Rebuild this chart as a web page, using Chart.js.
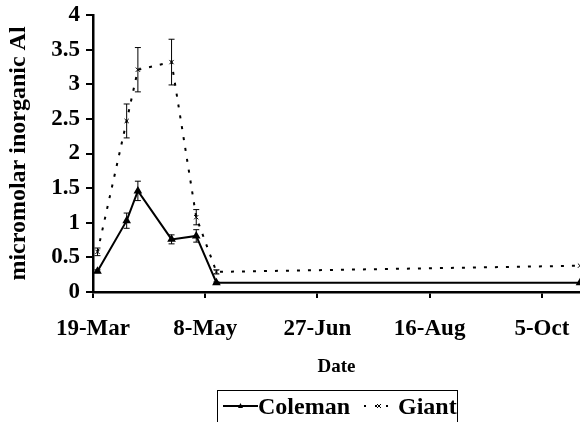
<!DOCTYPE html>
<html>
<head>
<meta charset="utf-8">
<script src="https://cdn.jsdelivr.net/npm/chart.js@4.4.0/dist/chart.umd.min.js"></script>
<style>
  html, body { margin: 0; padding: 0; background: #fff; }
  #wrap { position: relative; width: 580px; height: 422px; overflow: hidden; }
  #legend {
    position: absolute; left: 217px; top: 390px; width: 241px; height: 40px;
    border: 1px solid #000; box-sizing: border-box;
    font: bold 24px "Liberation Serif", "Times New Roman", serif;
    white-space: nowrap; padding-left: 5px; line-height: 26px;
  }
  #legend span, #legend svg { vertical-align: middle; }
</style>
</head>
<body>
<div id="wrap">
  <canvas id="myChart" width="580" height="422"></canvas>
  <div id="legend">
    <svg width="35" height="10"><line x1="0" y1="5" x2="35" y2="5" stroke="#000" stroke-width="2"/><path d="M17.5 2 L20 7 L15 7 Z" fill="#000"/></svg><span>Coleman</span>
    <svg width="40" height="10" style="margin-left:2px"><line x1="6" y1="5" x2="38" y2="5" stroke="#000" stroke-width="2" stroke-dasharray="2 9"/><path d="M19 3 L23 7 M23 3 L19 7" stroke="#000" stroke-width="1"/></svg><span>Giant</span>
  </div>
</div>
<script>
// dies comptats des del 19-Mar
const days = [2, 15, 20, 35, 46, 55, 217];
const tickLabels = ['19-Mar', '8-May', '27-Jun', '16-Aug', '5-Oct'];
const colemanValues = [0.30, 1.03, 1.46, 0.76, 0.81, 0.135, 0.135];
const colemanErrors = [0.02, 0.11, 0.14, 0.065, 0.09, 0.01, 0];
const giantValues = [0.58, 2.47, 3.21, 3.32, 1.08, 0.29, 0.38];
const giantErrors = [0.055, 0.245, 0.32, 0.33, 0.11, 0.03, 0];

const serif = '"Liberation Serif", "Times New Roman", serif';

// barres d'error dibuixades amb les escales del gràfic
const errorBars = {
  id: 'errorBars',
  afterDatasetsDraw(chart) {
    const ctx = chart.ctx;
    const y = chart.scales.y;
    ctx.save();
    ctx.strokeStyle = '#000';
    ctx.lineWidth = 1;
    chart.data.datasets.forEach((ds, i) => {
      const meta = chart.getDatasetMeta(i);
      meta.data.forEach((pt, j) => {
        const err = ds.errors[j];
        if (!err) return;
        const top = y.getPixelForValue(ds.data[j].y + err);
        const bottom = y.getPixelForValue(ds.data[j].y - err);
        ctx.beginPath();
        ctx.moveTo(pt.x, top);
        ctx.lineTo(pt.x, bottom);
        ctx.moveTo(pt.x - 3, top);
        ctx.lineTo(pt.x + 3, top);
        ctx.moveTo(pt.x - 3, bottom);
        ctx.lineTo(pt.x + 3, bottom);
        ctx.stroke();
      });
    });
    ctx.restore();
  },
};

const ctx = document.getElementById('myChart').getContext('2d');
const chart = new Chart(ctx, {
  type: 'line',
  data: {
    datasets: [
      {
        label: 'Coleman',
        data: days.map((d, i) => ({ x: d, y: colemanValues[i] })),
        errors: colemanErrors,
        borderColor: '#000',
        backgroundColor: '#000',
        borderWidth: 2,
        pointStyle: 'triangle',
        pointRadius: 3,
        tension: 0,
      },
      {
        label: 'Giant',
        data: days.map((d, i) => ({ x: d, y: giantValues[i] })),
        errors: giantErrors,
        borderColor: '#000',
        backgroundColor: '#000',
        borderWidth: 2,
        borderDash: [3, 8],
        pointStyle: 'crossRot',
        pointRadius: 3,
        pointBorderWidth: 1,
        tension: 0,
      },
    ],
  },
  options: {
    responsive: false,
    animation: false,
    layout: { autoPadding: false, padding: { top: 15, right: 0, bottom: 40, left: 0 } },
    plugins: { legend: { display: false }, tooltip: { enabled: false } },
    scales: {
      x: {
        type: 'linear',
        min: 0,
        max: 217,
        afterFit: (scale) => {
          scale.height = 90;
          scale.paddingRight = 0;
        },
        afterBuildTicks: (scale) => {
          scale.ticks = tickLabels.map((t, i) => ({ value: i * 50 }));
        },
        ticks: {
          color: '#000',
          padding: 17,
          maxRotation: 0,
          font: { family: serif, size: 23, weight: 'bold' },
          callback: (value) => tickLabels[Math.round(value / 50)],
        },
        grid: { drawOnChartArea: false, drawTicks: true, tickLength: 6, color: '#000', lineWidth: 2 },
        border: { display: true, color: '#000', width: 2.5 },
        title: {
          display: true,
          text: 'Date',
          color: '#000',
          font: { family: serif, size: 19, weight: 'bold' },
        },
      },
      y: {
        min: 0,
        max: 4,
        afterFit: (scale) => {
          scale.width = 93;
          scale.paddingTop = 0;
        },
        ticks: {
          stepSize: 0.5,
          color: '#000',
          padding: 6,
          font: { family: serif, size: 23, weight: 'bold' },
          callback: (value) => String(value),
        },
        grid: { drawOnChartArea: false, drawTicks: true, tickLength: 7, color: '#000', lineWidth: 2 },
        border: { display: true, color: '#000', width: 2.5 },
        title: {
          display: true,
          text: 'micromolar inorganic Al',
          color: '#000',
          padding: 4,
          font: { family: serif, size: 24, weight: 'bold' },
        },
      },
    },
  },
  plugins: [errorBars],
});
</script>
</body>
</html>
